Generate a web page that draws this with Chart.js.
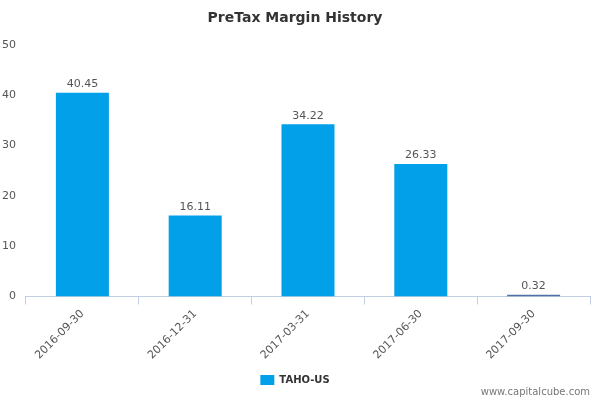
<!DOCTYPE html>
<html>
<head>
<script src="https://cdn.jsdelivr.net/npm/chart.js@4"></script>
<style>body{margin:0;background:#fff}#wrap{width:600px;height:400px}</style>
</head>
<body>
<div id="wrap"><canvas id="c"></canvas></div>
<script>
const categories = ['2016-09-30', '2016-12-31', '2017-03-31', '2017-06-30', '2017-09-30'];
const values = [40.45, 16.11, 34.22, 26.33, 0.32];
const yTicks = [0, 10, 20, 30, 40, 50];

const labelPlugin = {
    id: 'labels',
    afterDatasetsDraw(chart) {
        const ctx = chart.ctx;
        const meta = chart.getDatasetMeta(0);
        ctx.save();
        ctx.font = '11px "DejaVu Sans", sans-serif';
        ctx.fillStyle = '#555';
        ctx.textAlign = 'center';
        ctx.textBaseline = 'bottom';
        meta.data.forEach((bar, i) => {
            ctx.fillText(values[i].toFixed(2), bar.x, bar.y - 3);
        });
        ctx.textAlign = 'right';
        ctx.font = '10px "DejaVu Sans", sans-serif';
        ctx.fillStyle = '#777';
        ctx.fillText('www.capitalcube.com', 590, 397);
        ctx.restore();
    }
};

new Chart(document.getElementById('c'), {
    type: 'bar',
    data: {
        labels: categories,
        datasets: [{
            label: 'TAHO-US',
            data: values,
            backgroundColor: values.map(v => v < 1 ? '#5470a8' : '#03a0ea'),
            barPercentage: 0.47,
            categoryPercentage: 1
        }]
    },
    options: {
        responsive: true,
        maintainAspectRatio: false,
        animation: false,
        layout: { padding: { left: 0, right: 10, top: 2, bottom: 5 } },
        scales: {
            y: {
                min: 0, max: 50,
                afterBuildTicks: axis => { axis.ticks = yTicks.map(v => ({ value: v })); },
                grid: { display: false },
                border: { display: false },
                ticks: { color: '#555', font: { size: 11, family: 'DejaVu Sans' }, padding: 2 }
            },
            x: {
                grid: { display: true, drawOnChartArea: false, offset: true, color: '#c0d0e0', tickLength: 8 },
                border: { color: '#c0d0e0' },
                ticks: { color: '#555', font: { size: 11, family: 'DejaVu Sans' }, maxRotation: 45, minRotation: 45 }
            }
        },
        plugins: {
            title: {
                display: true, text: 'PreTax Margin History', color: '#333',
                font: { size: 14, weight: 'bold', family: 'DejaVu Sans' }, padding: { top: 8, bottom: 18 }
            },
            legend: {
                position: 'bottom',
                labels: { boxWidth: 14, boxHeight: 10, color: '#333', font: { size: 10, weight: 'bold', family: 'DejaVu Sans' } }
            },
            tooltip: { enabled: false }
        }
    },
    plugins: [labelPlugin]
});
</script>
</body>
</html>
